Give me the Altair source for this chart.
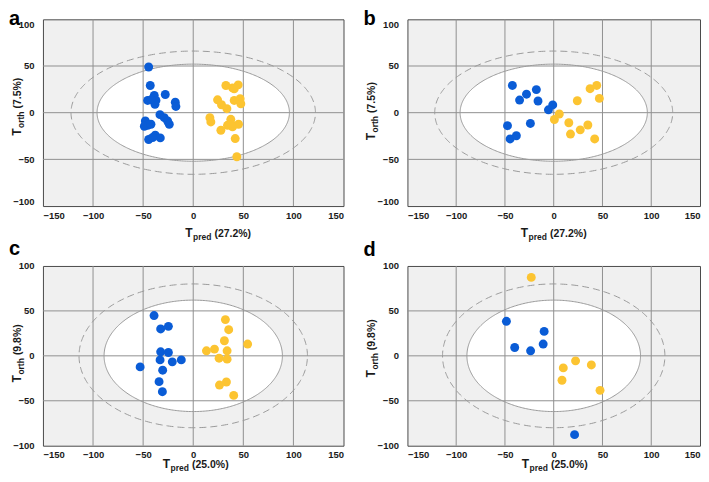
import altair as alt
import numpy as np
import pandas as pd

# ---------------- data ----------------
a_blue_x = [-44.5, -42.9, -45.5, -38.9, -37.2, -38.2, -42.0, -27.9, -17.9, -17.3, -33.2, -28.9,
            -25.6, -23.9, -47.8, -45.5, -48.8, -42.2, -44.5, -37.9, -32.9, -40.5]
a_blue_y = [48.9, 29.1, 13.1, 18.4, 13.1, 8.9, 14.0, 19.5, 11.3, 6.7, -2.1, -5.3,
            -8.9, -12.4, -8.9, -13.5, -14.5, -12.4, -28.7, -24.1, -27.0, -26.6]
a_yel_x = [32.6, 39.2, 44.9, 40.9, 24.3, 28.2, 33.6, 40.9, 46.8, 47.5, 16.6, 17.6,
           37.5, 34.2, 39.2, 45.2, 27.6, 41.9, 43.5, 37.5]
a_yel_y = [29.1, 26.6, 29.8, 25.5, 13.8, 8.5, 4.3, 13.1, 14.9, 9.6, -5.3, -9.9,
           -7.1, -13.5, -15.2, -12.4, -18.8, -27.7, -47.2, -11.7]

b_blue_x = [-42.4, -35.0, -27.9, -17.8, -16.1, -5.4, -1.0, -47.4, -23.9, -44.7, -38.3]
b_blue_y = [29.2, 13.5, 19.8, 24.7, 12.5, 3.1, 8.3, -13.9, -11.5, -28.1, -24.7]
b_yel_x = [0.7, 5.7, 24.2, 37.3, 44.1, 46.8, 15.5, 17.2, 27.2, 35.0, 42.0]
b_yel_y = [-7.3, -1.4, 12.8, 25.7, 29.2, 15.3, -10.8, -22.9, -18.4, -13.2, -28.1]

c_blue_x = [-39.1, -32.5, -24.8, -32.5, -24.8, -33.1, -20.9, -11.9, -53.0, -30.5, -34.1, -30.8]
c_blue_y = [44.8, 29.9, 32.8, 4.5, 3.7, -4.5, -6.7, -4.5, -12.3, -16.0, -28.7, -39.9]
c_yel_x = [32.1, 35.4, 31.1, 54.3, 13.2, 21.2, 33.8, 25.8, 33.8, 26.2, 33.1, 40.4]
c_yel_y = [40.3, 29.1, 16.8, 13.1, 5.6, 7.5, 5.6, -2.6, -3.7, -32.5, -29.1, -44.0]

d_blue_x = [-48.5, -40.0, -23.7, -10.8, -9.8, 21.4]
d_blue_y = [38.4, 9.3, 5.6, 13.1, 27.2, -87.7]
d_yel_x = [-23.0, 22.4, 9.8, 8.5, 38.6, 47.5]
d_yel_y = [87.3, -5.6, -13.4, -27.2, -10.1, -38.4]

# ellipse semi-axes (inner solid, outer dashed)
ab_inner = [96, 52]
ab_outer = [122, 66]
cd_inner = [89, 62]
cd_outer = [114, 80]

x_ticks = [-150, -100, -50, 0, 50, 100, 150]
y_ticks = [-100, -50, 0, 50, 100]
grid_x = [-100, -50, 0, 50, 100]
grid_y = [-50, 0, 50]

groups = ["blue", "yellow"]
colors = ["#0a5cd6", "#fcc431"]

FONT = "Liberation Sans"
TXT = "#1a1a1a"
GRID = "#909090"
ELL = "#9a9a9a"

T_SIZE, SUB_SIZE, MAIN_SIZE = 12, 8.5, 10.5
EM = {"T": 0.611, "pred": 2.167, "orth": 1.944, "(27.2%)": 3.501, "(25.0%)": 3.501,
      "(7.5%)": 2.945, "(9.8%)": 2.945}


def txt(s, x, y, size, angle=0, align="left", baseline="alphabetic", color=TXT):
    return alt.Chart(alt.Data(values=[{"k": 0}])).mark_text(
        text=s, fontSize=size, fontWeight="bold", font=FONT, align=align,
        baseline=baseline, angle=angle, color=color
    ).encode(x=alt.value(x), y=alt.value(y))


def ellipse_area(ax):
    t = np.linspace(0, np.pi, 241)
    return pd.DataFrame({"x": ax[0] * np.cos(t), "y": ax[1] * np.sin(t), "y2": -ax[1] * np.sin(t)})


def ellipse_loop(ax):
    t = np.linspace(0, 2 * np.pi, 361)
    return pd.DataFrame({"x": ax[0] * np.cos(t), "y": ax[1] * np.sin(t), "i": np.arange(len(t))})


def panel(bx, by, yx, yy, inner, outer, xlab, ylab, letter, W, H,
          let_dx, let_dy, xt_dx, xt_base, yt_dy, yt_bx, flush):
    xs = alt.Scale(domain=[-150, 150], nice=False, zero=False)
    ys = alt.Scale(domain=[-100, 100], nice=False, zero=False)
    xax = alt.Axis(values=x_ticks, title=None, labelPadding=4)
    yax = alt.Axis(values=y_ticks, title=None, labelPadding=9, labelFlush=flush)

    fill = alt.Chart(ellipse_area(inner)).mark_area(color="white", opacity=1).encode(
        x=alt.X("x:Q", scale=xs, axis=xax),
        y=alt.Y("y:Q", scale=ys, axis=yax),
        y2="y2:Q")
    vgrid = alt.Chart(pd.DataFrame({"v": grid_x})).mark_rule(color=GRID, strokeWidth=1).encode(
        x=alt.X("v:Q", scale=xs))
    hgrid = alt.Chart(pd.DataFrame({"v": grid_y})).mark_rule(color=GRID, strokeWidth=1).encode(
        y=alt.Y("v:Q", scale=ys))
    in_line = alt.Chart(ellipse_loop(inner)).mark_line(color=ELL, strokeWidth=1).encode(
        x=alt.X("x:Q", scale=xs), y=alt.Y("y:Q", scale=ys), order="i:Q")
    out_line = alt.Chart(ellipse_loop(outer)).mark_line(
        color=ELL, strokeWidth=1, strokeDash=[7, 4]).encode(
        x=alt.X("x:Q", scale=xs), y=alt.Y("y:Q", scale=ys), order="i:Q")
    pts_df = pd.DataFrame({
        "x": list(bx) + list(yx),
        "y": list(by) + list(yy),
        "g": ["blue"] * len(bx) + ["yellow"] * len(yx)})
    pts = alt.Chart(pts_df).mark_circle(size=80, opacity=1).encode(
        x=alt.X("x:Q", scale=xs), y=alt.Y("y:Q", scale=ys),
        color=alt.Color("g:N", scale=alt.Scale(domain=groups, range=colors), legend=None))

    # x title: T_pred (xx%)
    wT = EM["T"] * T_SIZE
    wS = EM["pred"] * SUB_SIZE
    wM = EM[xlab] * MAIN_SIZE
    tot = wT + 0.5 + wS + 3 + wM
    x0 = W / 2 + xt_dx - tot / 2
    xb = H + xt_base
    xt = [txt("T", x0, xb, T_SIZE),
          txt("pred", x0 + wT + 0.5, xb + 3, SUB_SIZE),
          txt(xlab, x0 + wT + 0.5 + wS + 3, xb, MAIN_SIZE)]

    # y title (rotated): T_orth (xx%)
    wS2 = EM["orth"] * SUB_SIZE
    wM2 = EM[ylab] * MAIN_SIZE
    tot2 = wT + 0.5 + wS2 + 3 + wM2
    y0 = H / 2 + yt_dy + tot2 / 2
    yt = [txt("T", yt_bx, y0, T_SIZE, angle=270),
          txt("orth", yt_bx + 3, y0 - wT - 0.5, SUB_SIZE, angle=270),
          txt(ylab, yt_bx, y0 - wT - 0.5 - wS2 - 3, MAIN_SIZE, angle=270)]

    lt = txt(letter, let_dx, let_dy, 20, baseline="top", color="#000000")

    return alt.layer(fill, vgrid, hgrid, in_line, out_line, pts, *xt, *yt, lt).properties(
        width=W, height=H)


W1, W2 = 301, 293
H1, H2 = 187, 180

pa = panel(a_blue_x, a_blue_y, a_yel_x, a_yel_y, ab_inner, ab_outer, "(27.2%)", "(7.5%)", "a",
           W1, H1, -34, -10, 25, 31, -6, -22, True)
pb = panel(b_blue_x, b_blue_y, b_yel_x, b_yel_y, ab_inner, ab_outer, "(27.2%)", "(7.5%)", "b",
           W2, H1, -44, -10, 0, 31, -1.5, -32, True)
pc = panel(c_blue_x, c_blue_y, c_yel_x, c_yel_y, cd_inner, cd_outer, "(25.0%)", "(9.8%)", "c",
           W1, H2, -34, -27, 2.5, 22, -2.5, -22, False)
pd_ = panel(d_blue_x, d_blue_y, d_yel_x, d_yel_y, cd_inner, cd_outer, "(25.0%)", "(9.8%)", "d",
            W2, H2, -44, -26, 1, 22, -7.5, -32, False)

chart = alt.concat(
    pa, pb, pc, pd_, columns=2, bounds="flush",
    spacing={"row": 60, "column": 64},
).properties(padding=0).configure_view(
    fill="#f0f0f0", stroke="#4a4a4a", strokeWidth=1
).configure_axis(
    grid=False, domain=False, ticks=False, labelFont=FONT, labelFontSize=9.5,
    labelFontWeight="bold", labelColor=TXT
)

chart.save("out.html", embed_options={"renderer": "svg", "actions": False})
